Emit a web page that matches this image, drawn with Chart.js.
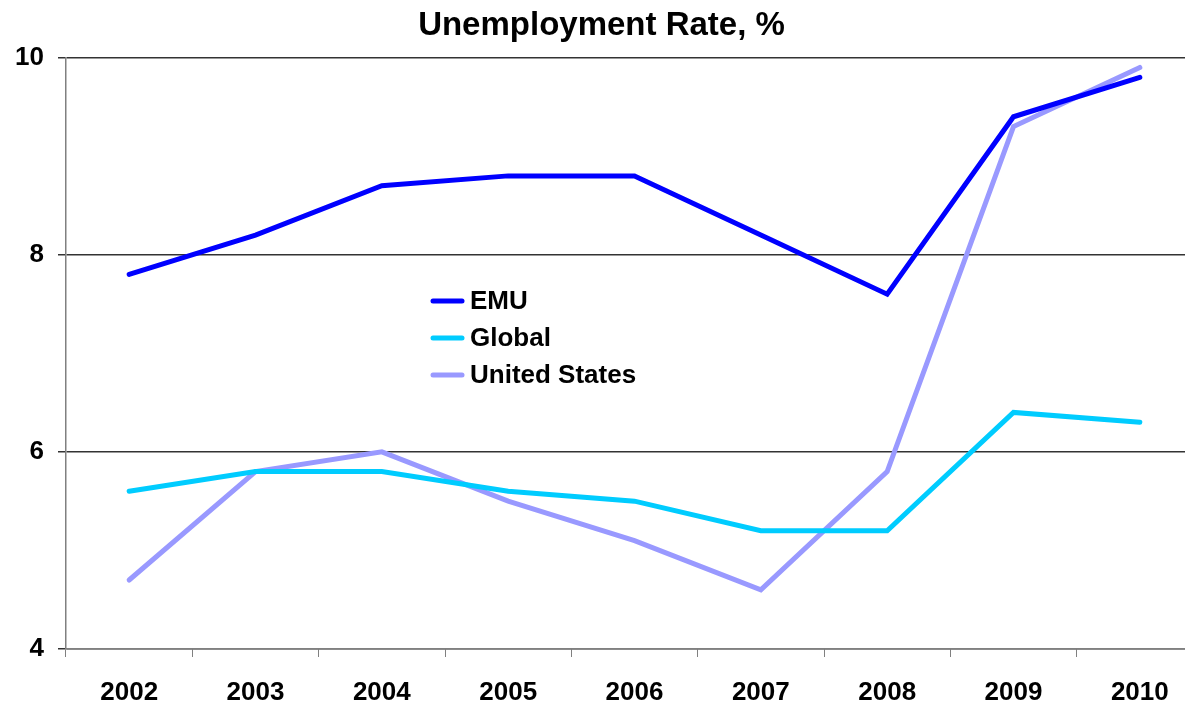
<!DOCTYPE html>
<html>
<head>
<meta charset="utf-8">
<script src="https://cdn.jsdelivr.net/npm/chart.js@4/dist/chart.umd.min.js"></script>
<style>
  html, body { margin: 0; padding: 0; background: #fff; overflow: hidden; }
  #wrap { width: 1185px; height: 703px; overflow: hidden; }
</style>
</head>
<body>
<div id="wrap"><canvas id="chart" width="1205" height="703"></canvas></div>
<script>
const years = ["2002", "2003", "2004", "2005", "2006", "2007", "2008", "2009", "2010"]
const emu = [7.8, 8.2, 8.7, 8.8, 8.8, 8.2, 7.6, 9.4, 9.8]
const global = [5.6, 5.8, 5.8, 5.6, 5.5, 5.2, 5.2, 6.4, 6.3]
const us = [4.7, 5.8, 6.0, 5.5, 5.1, 4.6, 5.8, 9.3, 9.9]
const series_names = ["EMU", "Global", "United States"]

const font_family = "Arial, 'Liberation Sans', sans-serif"

// legend sits inside the plot, drawn by hand
const innerLegend = {
  id: "innerLegend",
  afterDraw(chart) {
    const ctx = chart.ctx
    ctx.save()
    ctx.font = "bold 26px " + font_family
    ctx.textBaseline = "middle"
    chart.data.datasets.forEach((ds, i) => {
      let y = 301 + i * 37
      ctx.strokeStyle = ds.borderColor
      ctx.lineWidth = 5
      ctx.lineCap = "round"
      ctx.beginPath()
      ctx.moveTo(433, y)
      ctx.lineTo(462, y)
      ctx.stroke()
      ctx.fillStyle = "#000"
      ctx.fillText(ds.label, 470, y + 1)
    })
    ctx.restore()
  }
}

const ctx = document.getElementById("chart").getContext("2d")
new Chart(ctx, {
  type: "line",
  data: {
    labels: years,
    datasets: [
      { label: series_names[0], data: emu, borderColor: "#0000FF" },
      { label: series_names[1], data: global, borderColor: "#00CCFF" },
      { label: series_names[2], data: us, borderColor: "#9999FF" }
    ].map(d => Object.assign(d, {
      borderWidth: 5,
      pointRadius: 0,
      fill: false,
      tension: 0,
      borderCapStyle: "round",
      borderJoinStyle: "miter"
    }))
  },
  options: {
    responsive: false,
    animation: { duration: 0 },
    layout: { padding: { top: 0, right: 2, bottom: 0, left: 0 } },
    plugins: {
      legend: { display: false },
      tooltip: { enabled: false },
      title: {
        display: true,
        text: "Unemployment Rate, %",
        color: "#000",
        font: { family: font_family, size: 33, weight: "bold" },
        padding: { top: 6, bottom: 12 }
      }
    },
    scales: {
      x: {
        offset: true,
        grid: { offset: true, drawOnChartArea: false, drawTicks: true, tickLength: 8, color: "#808080" },
        border: { color: "#808080", width: 1.5 },
        ticks: { color: "#000", padding: 20, font: { family: font_family, size: 26, weight: "bold" } },
        afterFit: s => { s.height = 54 }
      },
      y: {
        min: 4,
        max: 10,
        ticks: { stepSize: 2, color: "#000", padding: 14, font: { family: font_family, size: 26, weight: "bold" } },
        grid: { color: "#333333", lineWidth: 1.5, tickLength: 8 },
        border: { color: "#808080", width: 1.5 },
        afterFit: s => { s.width = 66 }
      }
    }
  },
  plugins: [innerLegend]
})
</script>
</body>
</html>
